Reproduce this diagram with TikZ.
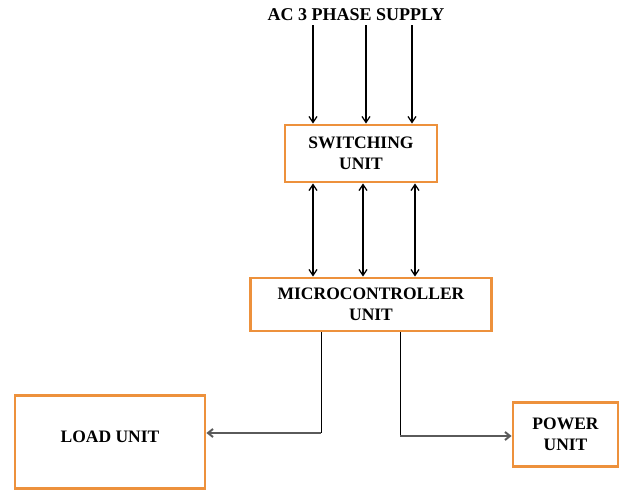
\documentclass[tikz,border=0pt]{standalone}
\usepackage{fontspec}
\setmainfont{Liberation Serif}
\usetikzlibrary{arrows.meta}
\definecolor{boxorange}{RGB}{237,145,60}
\definecolor{arrgray}{RGB}{90,90,90}
\begin{document}
\begin{tikzpicture}[x=1pt,y=-1pt,
  unitbox/.style={draw=boxorange,line width=2.8pt,fill=white,align=center,font=\bfseries\fontsize{17.5}{21}\selectfont,inner sep=0pt},
  conn/.style={line width=1.3pt,-{Straight Barb[length=6pt,width=8pt]}},
  dconn/.style={line width=1.3pt,{Straight Barb[length=6pt,width=8pt]}-{Straight Barb[length=6pt,width=8pt]}},
  gconn/.style={draw=arrgray,line width=2pt,-{Straight Barb[length=5pt,width=8pt]}},
  thin/.style={line width=1pt}]
\useasboundingbox (0,0) rectangle (621,490);
\node[font=\bfseries\fontsize{18}{21}\selectfont] (title) at (356,15) {AC 3 PHASE SUPPLY};
\node[unitbox,minimum width=152pt,minimum height=57pt] (sw) at (361,153.5) {SWITCHING\\UNIT};
\node[unitbox,minimum width=241pt,minimum height=53pt] (mc) at (371,304.5) {MICROCONTROLLER\\UNIT};
\node[unitbox,minimum width=190pt,minimum height=93pt] (ld) at (110,442) {};
\node[font=\bfseries\fontsize{17.5}{21}\selectfont] (ldt) at (110,437) {LOAD UNIT};
\node[unitbox,minimum width=105pt,minimum height=64pt] (pw) at (565.5,434.5) {POWER\\UNIT};
\coordinate (t1) at (313,25);
\coordinate (t2) at (366,25);
\coordinate (t3) at (412,25);
\draw[conn] (t1) -- (t1 |- sw.north);
\draw[conn] (t2) -- (t2 |- sw.north);
\draw[conn] (t3) -- (t3 |- sw.north);
\coordinate (d1) at (313,200);
\coordinate (d2) at (363,200);
\coordinate (d3) at (415,200);
\draw[dconn] (d1 |- sw.south) -- (d1 |- mc.north);
\draw[dconn] (d2 |- sw.south) -- (d2 |- mc.north);
\draw[dconn] (d3 |- sw.south) -- (d3 |- mc.north);
\coordinate (l1) at (321,433);
\coordinate (r1) at (400,436);
\draw[thin] (l1 |- mc.south) -- (l1);
\draw[gconn] (l1) -- (l1 -| ld.east);
\draw[thin] (r1 |- mc.south) -- (r1);
\draw[gconn] (r1) -- (r1 -| pw.west);
\end{tikzpicture}
\end{document}
